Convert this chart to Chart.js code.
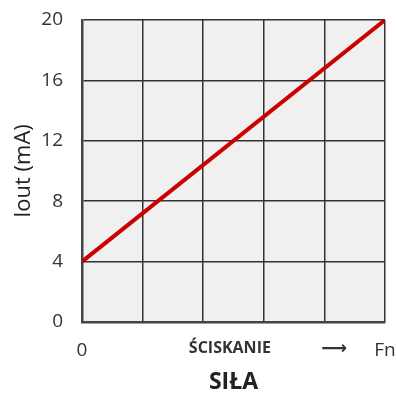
<!DOCTYPE html>
<html lang="pl">
<head>
    <meta charset="UTF-8" />
    <title>Iout vs SIŁA</title>
    <script src="https://cdn.jsdelivr.net/npm/chart.js"></script>
    <style>
        body { margin: 0; background: #ffffff; }
        #wrap { width: 396px; height: 396px; }
    </style>
</head>
<body>
    <div id="wrap"><canvas id="chart"></canvas></div>

    <script>
        // data
        const forceX = [0, 5];
        const currentMA = [4, 20];
        const yTicks = [0, 4, 8, 12, 16, 20];
        const xGridTicks = [0, 1, 2, 3, 4, 5];
        // extra x labels that sit between grid lines
        const xLabelTicks = [
            { value: 0, label: '0' },
            { value: 2.44, label: 'ŚCISKANIE' },
            { value: 4.16, label: '⟶' },
            { value: 5, label: 'Fn' }
        ];

        const allXTicks = [...new Set([...xGridTicks, ...xLabelTicks.map(t => t.value)])].sort((a, b) => a - b);

        function labelFor(v) {
            const t = xLabelTicks.find(t => t.value === v);
            return t ? t.label : '';
        }

        // light grey plot background
        const plotBg = {
            id: 'plotBg',
            beforeDraw(chart) {
                const { ctx, chartArea: a } = chart;
                ctx.save();
                ctx.fillStyle = '#f0f0f0';
                ctx.fillRect(a.left, a.top, a.right - a.left, a.bottom - a.top);
                ctx.restore();
            }
        };

        const ctx = document.getElementById('chart').getContext('2d');
        new Chart(ctx, {
            type: 'scatter',
            data: {
                datasets: [{
                    data: forceX.map((x, i) => ({ x: x, y: currentMA[i] })),
                    showLine: true,
                    borderColor: '#cc0000',
                    borderWidth: 4,
                    pointRadius: 0,
                    fill: false
                }]
            },
            options: {
                responsive: true,
                maintainAspectRatio: false,
                animation: false,
                layout: { padding: { left: 11, right: 11, top: 20, bottom: 0 } },
                plugins: {
                    legend: { display: false },
                    tooltip: { enabled: false }
                },
                scales: {
                    x: {
                        type: 'linear',
                        min: 0,
                        max: 5,
                        afterBuildTicks(scale) {
                            scale.ticks = allXTicks.map(v => ({ value: v }));
                        },
                        afterFit(scale) {
                            scale.height = 74;
                            scale.paddingLeft = 0;
                            scale.paddingRight = 0;
                        },
                        ticks: {
                            autoSkip: false,
                            maxRotation: 0,
                            padding: 17,
                            color: '#333333',
                            font: (c) => {
                                const v = c.tick ? c.tick.value : 0;
                                if (v === 2.44) return { family: 'Open Sans', size: 16, weight: 'bold' };
                                if (v === 4.16) return { family: 'DejaVu Sans', size: 18, weight: 'bold' };
                                return { family: 'Open Sans', size: 19 };
                            },
                            callback: (v) => labelFor(v)
                        },
                        grid: {
                            drawTicks: false,
                            color: (c) => Number.isInteger(c.tick ? c.tick.value : 0) ? '#333333' : 'rgba(0,0,0,0)',
                            lineWidth: 1.5
                        },
                        border: { color: '#444444', width: 2.5 },
                        title: {
                            display: true,
                            text: 'SIŁA',
                            color: '#222222',
                            font: { family: 'Open Sans', size: 23, weight: 'bold' },
                            padding: { top: 0, bottom: 0 }
                        }
                    },
                    y: {
                        min: 0,
                        max: 20,
                        afterBuildTicks(scale) {
                            scale.ticks = yTicks.map(v => ({ value: v }));
                        },
                        afterFit(scale) {
                            scale.width = 71;
                            scale.paddingTop = 0;
                            scale.paddingBottom = 0;
                        },
                        ticks: {
                            padding: 19,
                            color: '#333333',
                            font: { family: 'Open Sans', size: 19 }
                        },
                        grid: {
                            drawTicks: false,
                            color: '#333333',
                            lineWidth: 1.5
                        },
                        border: { color: '#444444', width: 2.5 },
                        title: {
                            display: true,
                            text: 'Iout (mA)',
                            color: '#222222',
                            font: { family: 'Open Sans', size: 22 },
                            padding: { top: 0, bottom: 0 }
                        }
                    }
                }
            },
            plugins: [plotBg]
        });
    </script>
</body>
</html>
